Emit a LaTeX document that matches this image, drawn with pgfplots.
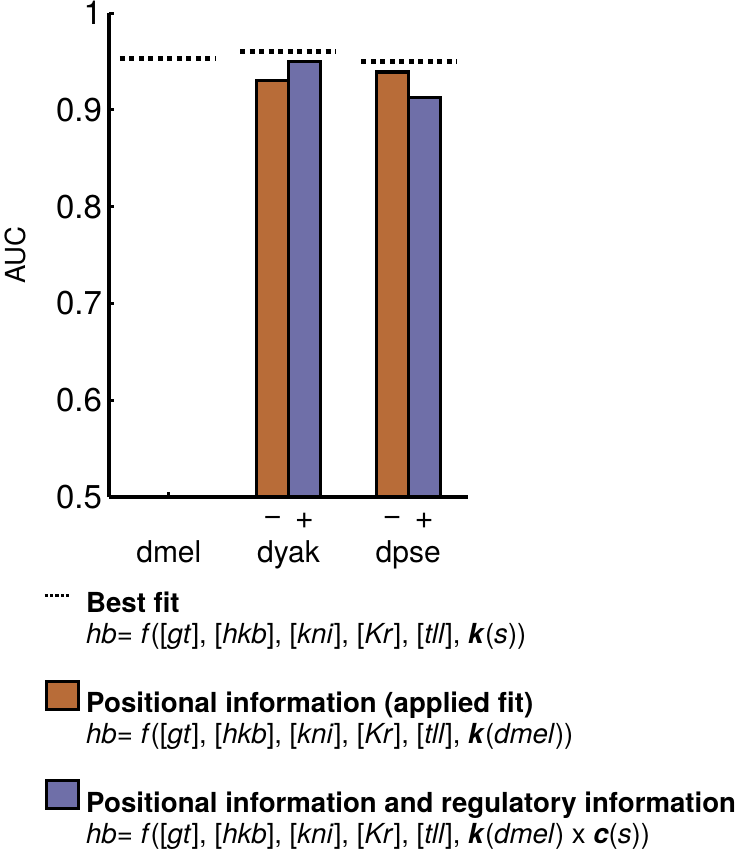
\documentclass[border=0pt]{standalone}
\usepackage{pgfplots}
\pgfplotsset{compat=1.18}
\usepackage{fontspec}
\setmainfont{TeX Gyre Heros}
\newfontfamily\arialf{Liberation Sans}
\definecolor{orangec}{RGB}{184,108,56}
\definecolor{bluec}{RGB}{111,111,168}
\pgfplotsset{
  dotleg/.style={legend image code/.code={\draw[##1] (0pt,8pt) -- (12.5pt,8pt);}},
  boxleg/.style={legend image code/.code={\draw[##1] (0.8pt,1pt) rectangle (17pt,15pt);}},
}
\begin{document}
\begin{tikzpicture}
\begin{axis}[name=ax, scale only axis, width=179.5pt, height=242pt,
  xmin=0.5, xmax=3.5, ymin=0.5, ymax=1,
  axis lines=left, axis line style={-, line width=1.7pt},
  every tick/.style={black, line width=1.5pt}, major tick length=2.5pt, tick align=inside,
  xtick={1,2,3}, xticklabels={dmel,dyak,dpse},
  ytick={0.5,0.6,0.7,0.8,0.9,1},
  /pgf/number format/assume math mode=true,
  yticklabel style={font=\fontsize{16.5}{18}\selectfont},
  xticklabel style={font=\fontsize{15}{17}\selectfont, yshift=-18.5pt},
  ylabel={AUC},
  ylabel style={font=\fontsize{13.8}{15}\selectfont, at={(axis description cs:-0.262,0.5)}, anchor=center},
  clip mode=individual,
  legend style={at={(axis description cs:-0.184,-0.1847)}, anchor=north west, draw=none, fill=none,
    inner sep=0pt, outer sep=0pt, row sep=21.75pt, column sep=1pt,
    font=\fontsize{13.8}{15.75}\selectfont, cells={anchor=west, inner sep=0pt}},
  legend cell align=left,
]
% bars
\addplot[ybar, bar width=0.267, bar shift=-0.1335, fill=orangec, draw=black, line width=1.6pt, forget plot]
  coordinates {(2,0.930) (3,0.939)};
\addplot[ybar, bar width=0.267, bar shift=0.1335, fill=bluec, draw=black, line width=1.6pt, forget plot]
  coordinates {(2,0.950) (3,0.913)};
% best fit
\addplot[black, line width=2.4pt, dash pattern=on 2.5pt off 2.25pt, forget plot]
  coordinates {(0.59,0.953) (1.39,0.953)};
\addplot[black, line width=2.4pt, dash pattern=on 2.5pt off 2.25pt, forget plot]
  coordinates {(1.595,0.960) (2.395,0.960)};
\addplot[black, line width=2.4pt, dash pattern=on 2.5pt off 2.25pt, forget plot]
  coordinates {(2.61,0.950) (3.41,0.950)};
% - / + labels
\node[font=\arialf\fontsize{15}{17}\selectfont, yshift=-12.5pt] at (axis cs:1.8665,0.5) {−};
\node[font=\arialf\fontsize{15}{17}\selectfont, yshift=-12.5pt] at (axis cs:2.1335,0.5) {+};
\node[font=\arialf\fontsize{15}{17}\selectfont, yshift=-12.5pt] at (axis cs:2.8665,0.5) {−};
\node[font=\arialf\fontsize{15}{17}\selectfont, yshift=-12.5pt] at (axis cs:3.1335,0.5) {+};
% legend
\addlegendimage{black, line width=1.7pt, dash pattern=on 1.6pt off 1.1pt, dotleg}
\addlegendentry{\begin{tabular}{@{}l@{}}\textbf{Best fit}\\ \textit{hb}= \textit{f}([\textit{gt}], [\textit{hkb}], [\textit{kni}], [\textit{Kr}], [\textit{tll}], \textbf{\textit{k}}(\textit{s}))\end{tabular}}
\addlegendimage{fill=orangec, draw=black, line width=1.5pt, boxleg}
\addlegendentry{\begin{tabular}{@{}l@{}}\textbf{Positional information (applied fit)}\\ \textit{hb}= \textit{f}([\textit{gt}], [\textit{hkb}], [\textit{kni}], [\textit{Kr}], [\textit{tll}], \textbf{\textit{k}}(\textit{dmel}))\end{tabular}}
\addlegendimage{fill=bluec, draw=black, line width=1.5pt, boxleg}
\addlegendentry{\begin{tabular}{@{}l@{}}\textbf{Positional information and regulatory information}\\ \textit{hb}= \textit{f}([\textit{gt}], [\textit{hkb}], [\textit{kni}], [\textit{Kr}], [\textit{tll}], \textbf{\textit{k}}(\textit{dmel}) x \textbf{\textit{c}}(\textit{s}))\end{tabular}}
\end{axis}
\pgfresetboundingbox
\path (ax.south west) ++(-54.5pt,-176.5pt) rectangle ++(372pt,425pt);
\end{tikzpicture}
\end{document}
